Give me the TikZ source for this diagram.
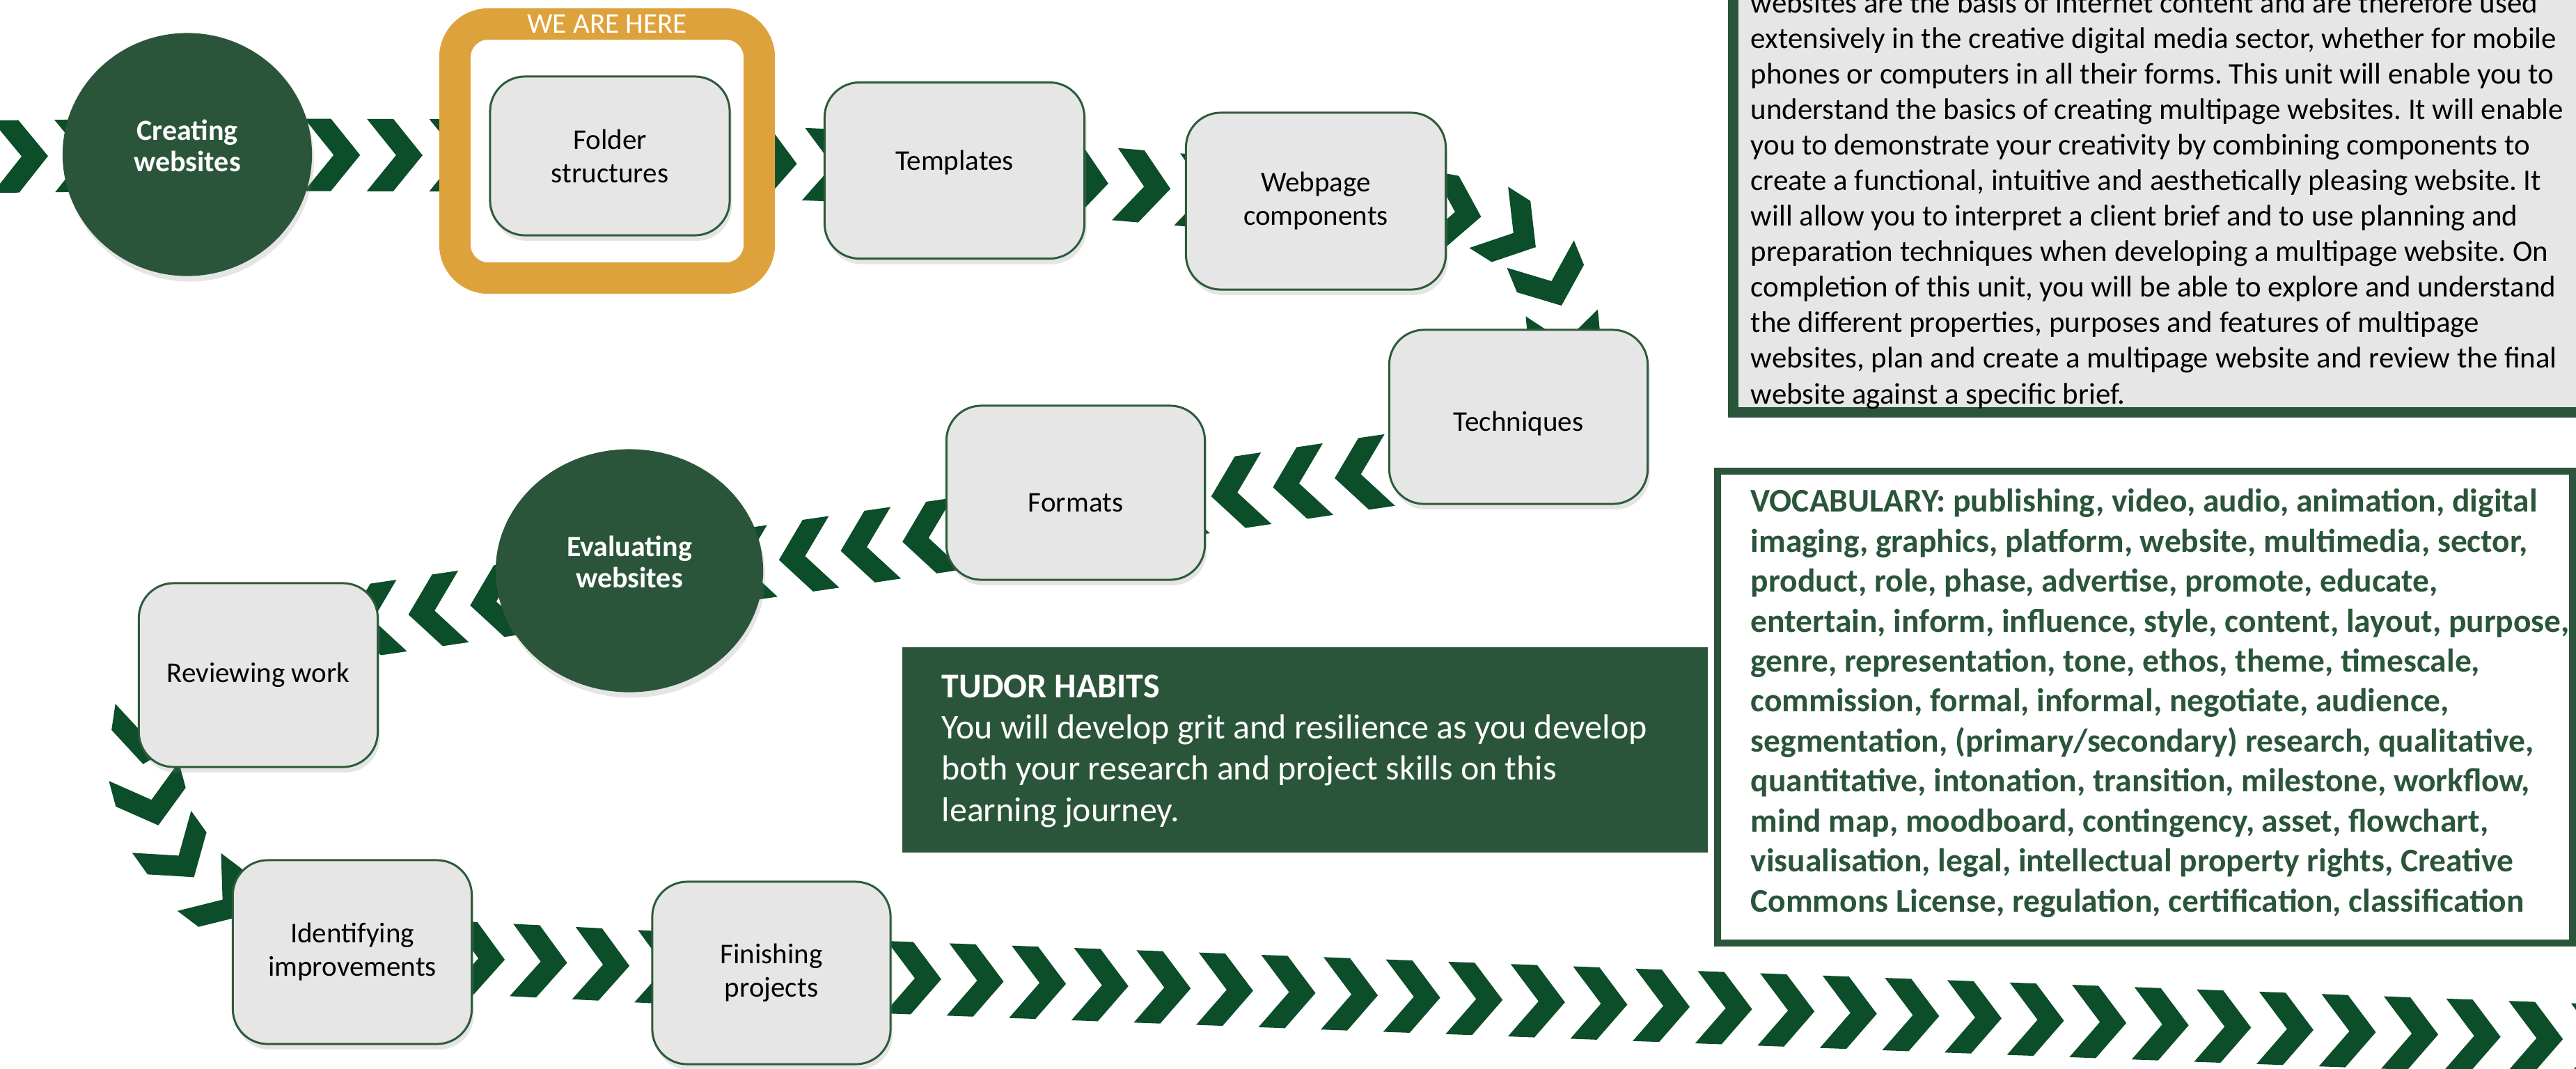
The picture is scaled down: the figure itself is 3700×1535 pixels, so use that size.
\documentclass[tikz,border=0pt]{standalone}
\usepackage{fontspec}
\setmainfont{Carlito}
\usetikzlibrary{calc,shapes.geometric,shadows,decorations.markings}
\definecolor{tudorgreen}{HTML}{2B553A}
\definecolor{chevgreen}{HTML}{0C4D2A}
\definecolor{boxgrey}{HTML}{E6E6E6}
\definecolor{boxline}{HTML}{2E5B3B}
\definecolor{heregold}{HTML}{DEA23C}
\pgfdeclarelayer{background}
\pgfsetlayers{background,main}
\tikzset{
  stepbox/.style={draw=boxline, line width=0.03cm, fill=boxgrey, rounded corners=0.5cm,
    align=center, font=\fontsize{11.67}{13.66}\selectfont,
    drop shadow={opacity=0.2, shadow xshift=0.03cm, shadow yshift=-0.08cm}},
  stage/.style={ellipse, fill=tudorgreen, text=white, align=center, text depth=0.26cm,
    font=\bfseries\fontsize{11.95}{12.8}\selectfont,
    drop shadow={opacity=0.2, shadow xshift=0.03cm, shadow yshift=-0.08cm}},
  chevrons/.style={postaction={decorate}, decoration={markings,
    mark=between positions #1 and 1 step 0.896cm with {\fill[chevgreen] (-40,-52) -- (-2,-52) -- (40,0) -- (-2,52) -- (-40,52) -- (2,0) -- cycle;}}}
}
\begin{document}
\frenchspacing
\begin{tikzpicture}[x=0.01cm, y=-0.01cm]
    \useasboundingbox (0,0) rectangle (3700,1535);
    \begin{scope}
      \clip (0,0) rectangle (3700,1535);
      \draw[tudorgreen, line width=0.15cm, fill=boxgrey] (2489.5,-60) rectangle (3780,592.5);
      \node[anchor=base west, align=left, inner sep=0, font=\fontsize{12.2}{14.51}\selectfont] (aims) at (2514,580)
        {websites are the basis of internet content and are therefore used\\
         extensively in the creative digital media sector, whether for mobile\\
         phones or computers in all their forms. This unit will enable you to\\
         understand the basics of creating multipage websites. It will enable\\
         you to demonstrate your creativity by combining components to\\
         create a functional, intuitive and aesthetically pleasing website. It\\
         will allow you to interpret a client brief and to use planning and\\
         preparation techniques when developing a multipage website. On\\
         completion of this unit, you will be able to explore and understand\\
         the different properties, purposes and features of multipage\\
         websites, plan and create a multipage website and review the final\\
         website against a specific brief.};
      \draw[tudorgreen, line width=0.1cm, fill=white] (2467,677) rectangle (3695,1355);
      \node[anchor=base west, align=left, inner sep=0, text=tudorgreen, font=\bfseries\fontsize{13.5}{16.33}\selectfont] (vocab) at (2514,1310)
        {VOCABULARY: publishing, video, audio, animation, digital\\
         imaging, graphics, platform, website, multimedia, sector,\\
         product, role, phase, advertise, promote, educate,\\
         entertain, inform, influence, style, content, layout, purpose,\\
         genre, representation, tone, ethos, theme, timescale,\\
         commission, formal, informal, negotiate, audience,\\
         segmentation, (primary/secondary) research, qualitative,\\
         quantitative, intonation, transition, milestone, workflow,\\
         mind map, moodboard, contingency, asset, flowchart,\\
         visualisation, legal, intellectual property rights, Creative\\
         Commons License, regulation, certification, classification};
    \end{scope}
    \fill[tudorgreen] (1296,930) rectangle (2453,1225);
    \node[anchor=base west, align=left, inner sep=0, text=white, font=\fontsize{14.2}{16.8}\selectfont] (habits) at (1352,1180)
      {\textbf{TUDOR HABITS}\\
       You will develop grit and resilience as you develop\\
       both your research and project skills on this\\
       learning journey.};
    \coordinate (entry) at (0,225);
    \coordinate (exit) at (3760,1496);
    \node[stage, minimum width=3.58cm, minimum height=3.49cm] (create) at (269,222) {Creating\\websites};
    \node[draw=heregold, fill=white, line width=0.45cm, outer sep=0, rounded corners=0.48cm,
          minimum width=4.37cm, minimum height=3.65cm] (here) at (872,217) {};
    \node[text=white, font=\fontsize{11.67}{13}\selectfont] (herelabel) at (here.north) {WE ARE HERE};
    \node[stepbox, minimum width=3.44cm, minimum height=2.28cm] (folder) at (876,224) {Folder\\structures};
    \node[stepbox, minimum width=3.73cm, minimum height=2.53cm, text depth=0.3cm] (tmpl) at (1371,245) {Templates};
    \node[stepbox, minimum width=3.73cm, minimum height=2.54cm] (webp) at (1890,289) {Webpage\\components};
    \node[stepbox, minimum width=3.71cm, minimum height=2.5cm, text height=0.47cm] (tech) at (2181,599) {Techniques};
    \node[stepbox, minimum width=3.71cm, minimum height=2.5cm, text height=0.55cm] (formats) at (1545,708) {Formats};
    \node[stage, minimum width=3.84cm, minimum height=3.49cm] (eval) at (904,820) {Evaluating\\websites};
    \node[stepbox, minimum width=3.43cm, minimum height=2.64cm] (rev) at (371,970) {Reviewing work};
    \node[stepbox, minimum width=3.43cm, minimum height=2.64cm] (ident) at (506,1368) {Identifying\\improvements};
    \node[stepbox, minimum width=3.42cm, minimum height=2.62cm] (finish) at (1108,1398) {Finishing\\projects};
    \begin{pgfonlayer}{background}
      \begin{scope}
        \clip (0,0) rectangle (3700,1535);
        \fill[white] (0,0) rectangle (3700,1535);
        \path[chevrons=0.29cm] (entry) -- (create.center) -- (folder.center) -- (tmpl.center) -- (webp.center)
          .. controls (2150,300) and (2250,300) .. ($(tech.north)+(69,86)$);
        \path[chevrons=0.475cm] ($(tech.center)+(0,49)$) -- ($(formats.center)+(0,34)$)
          -- ($(eval.center)+(0,16)$) -- ($(rev.center)+(0,-55)$);
        \path[chevrons=0.56cm] ($(rev.center)+(0,-55)$) .. controls (150,915) and (120,1300) .. (ident.center);
        \path[chevrons=0cm] (ident.center) -- (finish.center) -- (exit);
      \end{scope}
    \end{pgfonlayer}
\end{tikzpicture}
\end{document}
